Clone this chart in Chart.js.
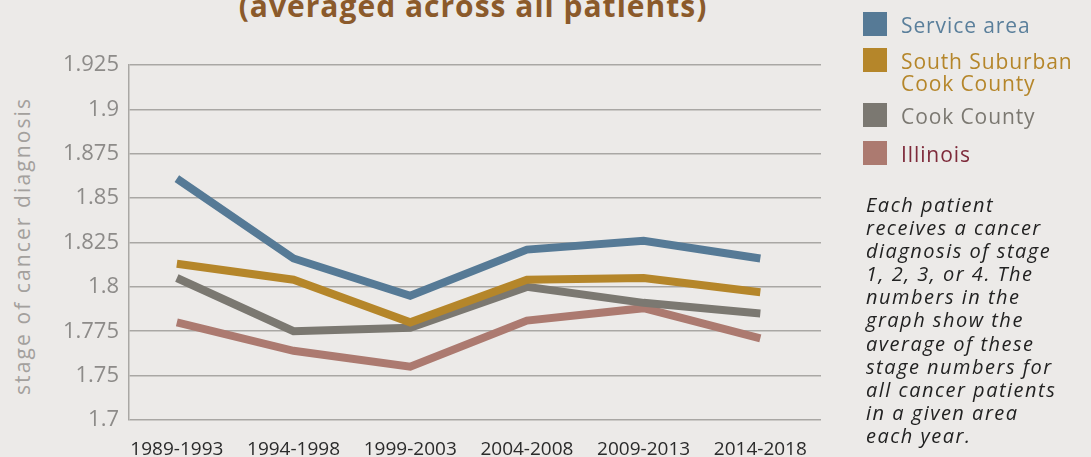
<!DOCTYPE html>
<html>
<head>
<meta charset="utf-8">
<script src="https://cdn.jsdelivr.net/npm/chart.js@4"></script>
<style>
    html, body { margin: 0; padding: 0; background: #eceae8; }
    body { width: 1091px; height: 457px; position: relative; overflow: hidden; font-family: "Open Sans", sans-serif; }
    #wrap { position: absolute; left: 0; top: 0; width: 1091px; height: 457px; }
    .title { position: absolute; left: 0; width: 946px; top: -11px; text-align: center; font-weight: 700; font-size: 30px; line-height: 34px; letter-spacing: 1px; color: #8b5a2b; }
    .ytitle { position: absolute; left: 22px; top: 246px; transform: translate(-50%, -50%) rotate(-90deg); white-space: nowrap; font-size: 21px; letter-spacing: 2.1px; color: #a3a09d; }
    .legend { position: absolute; left: 863px; top: 0; }
    .item { position: absolute; left: 0; white-space: nowrap; font-size: 21px; line-height: 22px; font-weight: 500; letter-spacing: 0.9px; }
    .item .sw { position: absolute; left: 0; top: 0; width: 24px; height: 24px; }
    .item .lbl { position: absolute; left: 38px; top: 2px; }
    .note { position: absolute; left: 866px; top: 193px; font-style: italic; font-size: 20px; line-height: 23.1px; letter-spacing: 1.5px; color: #222; white-space: nowrap; }
</style>
</head>
<body>
<div class="title">(averaged across all patients)</div>
<div class="ytitle">stage of cancer diagnosis</div>
<div id="wrap"><canvas id="chart"></canvas></div>
<div class="legend" id="legend"></div>
<div class="note">Each patient<br>receives a cancer<br>diagnosis of stage<br>1, 2, 3, or 4. The<br>numbers in the<br>graph show the<br>average of these<br>stage numbers for<br>all cancer patients<br>in a given area<br>each year.</div>
<script>
// ---------------------------------------------------------
// DATA
// ---------------------------------------------------------
const periods = ['1989-1993', '1994-1998', '1999-2003', '2004-2008', '2009-2013', '2014-2018'];
const serviceArea = [1.861, 1.816, 1.795, 1.821, 1.826, 1.816];
const southSuburban = [1.813, 1.804, 1.780, 1.804, 1.805, 1.797];
const cookCounty = [1.805, 1.775, 1.777, 1.800, 1.791, 1.785];
const illinois = [1.780, 1.764, 1.755, 1.781, 1.788, 1.771];
// tick labels as printed (bottom label reads 1.7)
const yTickLabels = ['1.7', '1.75', '1.775', '1.8', '1.825', '1.85', '1.875', '1.9', '1.925'];

const series = [
    { label: 'Service area', data: serviceArea, color: '#567a96', text: '#5a7f9b', top: 12 },
    { label: 'South Suburban<br>Cook County', data: southSuburban, color: '#b5862a', text: '#b5862a', top: 48 },
    { label: 'Cook County', data: cookCounty, color: '#7b7871', text: '#7b7871', top: 103 },
    { label: 'Illinois', data: illinois, color: '#ac7a70', text: '#7e2a3a', top: 141 }
];

// legend (html)
const legend = document.getElementById('legend');
series.forEach(function (s) {
    const it = document.createElement('div');
    it.className = 'item';
    it.style.top = s.top + 'px';
    it.innerHTML = '<span class="sw" style="background:' + s.color + '"></span><span class="lbl" style="color:' + s.text + '">' + s.label + '</span>';
    legend.appendChild(it);
});

const yMin = 1.725, yStep = 0.025;

new Chart(document.getElementById('chart'), {
    type: 'line',
    data: {
        datasets: series.map(function (s) {
            return {
                label: s.label,
                data: s.data.map(function (v, i) { return { x: i, y: v }; }),
                borderColor: s.color,
                backgroundColor: s.color,
                borderWidth: 8,
                pointRadius: 0,
                tension: 0,
                borderCapStyle: 'butt',
                borderJoinStyle: 'miter'
            };
        })
    },
    options: {
        responsive: true,
        maintainAspectRatio: false,
        animation: false,
        layout: { padding: { left: 0, top: 65, right: 270, bottom: 0 } },
        plugins: { legend: { display: false }, tooltip: { enabled: false } },
        scales: {
            x: {
                type: 'linear',
                min: -0.41,
                max: 5.52,
                afterBuildTicks: function (axis) {
                    axis.ticks = periods.map(function (p, i) { return { value: i }; });
                },
                afterFit: function (axis) { axis.height = 37; },
                grid: { display: false },
                border: { display: false },
                ticks: {
                    padding: 10,
                    maxRotation: 0,
                    autoSkip: false,
                    color: '#2b2b2b',
                    font: { family: 'Open Sans', size: 19 },
                    callback: function (v) { return periods[v]; }
                }
            },
            y: {
                min: yMin,
                max: 1.925,
                afterBuildTicks: function (axis) {
                    axis.ticks = yTickLabels.map(function (t, i) { return { value: yMin + i * yStep }; });
                },
                afterFit: function (axis) { axis.width = 129; },
                grid: { color: '#a9a7a4', lineWidth: 1.5, drawTicks: false },
                border: { color: '#a9a7a4', width: 1.5 },
                ticks: {
                    padding: 10,
                    color: '#8d8b89',
                    font: { family: 'Open Sans', size: 22 },
                    callback: function (v, i) { return yTickLabels[i]; }
                }
            }
        }
    }
});
</script>
</body>
</html>
